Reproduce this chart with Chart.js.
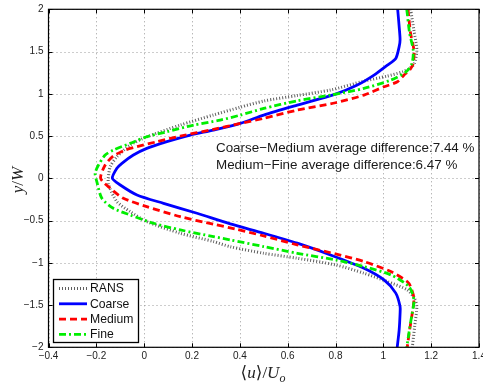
<!DOCTYPE html>
<html><head><meta charset="utf-8">
<script src="https://cdn.jsdelivr.net/npm/chart.js@4.4.1/dist/chart.umd.min.js"></script>
<style>html,body{margin:0;padding:0;background:#fff}</style>
</head><body>
<canvas id="c" width="483" height="383"></canvas>
<script>
// ---- data ----
const xTicks = [-0.4, -0.2, 0, 0.2, 0.4, 0.6, 0.8, 1, 1.2, 1.4];
const yTicks = [-2, -1.5, -1, -0.5, 0, 0.5, 1, 1.5, 2];
const seriesNames = ['RANS', 'Coarse', 'Medium', 'Fine'];

const ransY = [2.0, 1.75, 1.517, 1.36, 1.30, 1.26, 1.21, 1.15, 1.045, 0.98, 0.915, 0.84, 0.75, 0.63, 0.49, 0.394, 0.255, 0.137, 0.0, -0.079, -0.276, -0.394, -0.512, -0.65, -0.749, -0.81, -0.887, -0.946, -1.025, -1.123, -1.222, -1.32, -1.42, -1.518, -1.754, -2.0];
const ransU = [1.114, 1.128, 1.140, 1.130, 1.110, 1.080, 1.017, 0.919, 0.779, 0.640, 0.500, 0.400, 0.290, 0.151, 0.011, -0.059, -0.114, -0.142, -0.150, -0.149, -0.114, -0.059, 0.011, 0.151, 0.290, 0.360, 0.500, 0.640, 0.800, 0.919, 1.017, 1.100, 1.130, 1.140, 1.131, 1.121];

const coarseY = [2.0, 1.8, 1.64, 1.556, 1.418, 1.339, 1.221, 1.103, 0.996, 0.866, 0.748, 0.65, 0.571, 0.512, 0.433, 0.354, 0.275, 0.177, 0.118, 0.0, -0.079, -0.197, -0.296, -0.414, -0.54, -0.65, -0.768, -0.907, -1.064, -1.202, -1.359, -1.518, -1.6, -1.8, -2.0];
const coarseU = [1.060, 1.066, 1.070, 1.066, 1.052, 1.017, 0.961, 0.891, 0.800, 0.640, 0.500, 0.402, 0.290, 0.193, 0.095, 0.011, -0.045, -0.093, -0.114, -0.133, -0.100, -0.030, 0.081, 0.221, 0.360, 0.500, 0.640, 0.779, 0.919, 1.003, 1.052, 1.070, 1.070, 1.066, 1.058];

const mediumY = [2.0, 1.714, 1.517, 1.359, 1.28, 1.221, 1.142, 1.083, 0.985, 0.894, 0.807, 0.709, 0.65, 0.579, 0.5, 0.433, 0.374, 0.334, 0.263, 0.157, 0.0, -0.118, -0.236, -0.336, -0.454, -0.544, -0.599, -0.682, -0.788, -0.895, -0.985, -1.104, -1.222, -1.281, -1.418, -1.596, -1.793, -2.0];
const mediumU = [1.103, 1.114, 1.128, 1.125, 1.110, 1.086, 1.059, 1.003, 0.919, 0.800, 0.640, 0.500, 0.402, 0.290, 0.151, 0.053, -0.030, -0.080, -0.129, -0.163, -0.182, -0.142, -0.087, 0.011, 0.151, 0.290, 0.380, 0.500, 0.640, 0.800, 0.919, 1.031, 1.100, 1.114, 1.128, 1.121, 1.110, 1.100];

const fineY = [2.0, 1.714, 1.517, 1.36, 1.26, 1.162, 1.064, 0.985, 0.917, 0.827, 0.748, 0.689, 0.63, 0.551, 0.492, 0.413, 0.334, 0.275, 0.157, 0.059, -0.04, -0.236, -0.355, -0.434, -0.532, -0.611, -0.69, -0.729, -0.808, -0.887, -0.966, -1.045, -1.143, -1.281, -1.44, -1.636, -1.832, -2.0];
const fineU = [1.098, 1.110, 1.125, 1.120, 1.095, 1.031, 0.919, 0.779, 0.640, 0.500, 0.402, 0.318, 0.207, 0.095, 0.011, -0.059, -0.129, -0.163, -0.191, -0.205, -0.198, -0.177, -0.129, -0.059, 0.039, 0.151, 0.290, 0.360, 0.500, 0.640, 0.800, 0.919, 1.031, 1.107, 1.128, 1.118, 1.107, 1.098];

const annotationLines = ['Coarse\u2212Medium average difference:7.44 %', 'Medium\u2212Fine average difference:6.47 %'];

// ---- build ----
const pts = (u, y) => u.map((v, i) => ({x: v, y: y[i]}));
const fmt = v => { const r = Math.round(v * 10) / 10; return (r < 0 ? '\u2212' : '') + String(Math.abs(r)); };
const SANS = '"Liberation Sans", Arial, Helvetica, sans-serif';
const SERIF = '"Liberation Serif", "Times New Roman", "DejaVu Serif", serif';

const styles = [
  {borderColor: '#606060', borderWidth: 3, borderDash: [1, 2]},
  {borderColor: '#0000ff', borderWidth: 2.8, borderDash: []},
  {borderColor: '#ff0000', borderWidth: 2.8, borderDash: [7, 4]},
  {borderColor: '#00ee00', borderWidth: 2.8, borderDash: [7, 3, 2, 3]}
];
const seriesData = [pts(ransU, ransY), pts(coarseU, coarseY), pts(mediumU, mediumY), pts(fineU, fineY)];

const datasets = seriesNames.map((n, i) => Object.assign({
  label: n, data: seriesData[i], showLine: true, pointRadius: 0, tension: 0.25,
  fill: false, order: 4 - i
}, styles[i]));

const decor = {
  id: 'decor',
  beforeDatasetsDraw(chart) {
    const {ctx, chartArea: {left, right, top, bottom}, scales: {x, y}} = chart;
    ctx.save();
    ctx.strokeStyle = '#9a9a9a'; ctx.lineWidth = 1; ctx.setLineDash([1, 3]);
    xTicks.forEach(v => { const p = Math.round(x.getPixelForValue(v)) + 0.5; ctx.beginPath(); ctx.moveTo(p, top); ctx.lineTo(p, bottom); ctx.stroke(); });
    yTicks.forEach(v => { const p = Math.round(y.getPixelForValue(v)) + 0.5; ctx.beginPath(); ctx.moveTo(left, p); ctx.lineTo(right, p); ctx.stroke(); });
    ctx.restore();
  },
  afterDraw(chart) {
    const {ctx, chartArea: {left, right, top, bottom}, scales: {x, y}} = chart;
    ctx.save();
    // frame + inward ticks
    ctx.setLineDash([]); ctx.strokeStyle = '#000'; ctx.lineWidth = 1.2;
    ctx.strokeRect(left, top, right - left, bottom - top);
    ctx.lineWidth = 1;
    const tl = 4;
    xTicks.forEach(v => { const p = Math.round(x.getPixelForValue(v)) + 0.5; ctx.beginPath(); ctx.moveTo(p, bottom); ctx.lineTo(p, bottom - tl); ctx.moveTo(p, top); ctx.lineTo(p, top + tl); ctx.stroke(); });
    yTicks.forEach(v => { const p = Math.round(y.getPixelForValue(v)) + 0.5; ctx.beginPath(); ctx.moveTo(left, p); ctx.lineTo(left + tl, p); ctx.moveTo(right, p); ctx.lineTo(right - tl, p); ctx.stroke(); });

    // annotation text
    ctx.fillStyle = '#1a1a1a'; ctx.font = '13.4px ' + SANS; ctx.textBaseline = 'middle'; ctx.textAlign = 'left';
    annotationLines.forEach((t, i) => ctx.fillText(t, 216, 148.5 + i * 17.3));

    // legend
    const lx = 53.5, ly = 279.5, lw = 85, lh = 63;
    ctx.fillStyle = '#fff'; ctx.fillRect(lx, ly, lw, lh);
    ctx.strokeStyle = '#000'; ctx.lineWidth = 1.3; ctx.strokeRect(lx, ly, lw, lh);
    chart.data.datasets.forEach((ds, i) => {
      const yy = 288.5 + i * 15.3;
      ctx.save();
      ctx.strokeStyle = ds.borderColor; ctx.lineWidth = ds.borderWidth; ctx.setLineDash(ds.borderDash || []);
      ctx.beginPath(); ctx.moveTo(59, yy); ctx.lineTo(87, yy); ctx.stroke();
      ctx.restore();
      ctx.fillStyle = '#111'; ctx.font = '12.2px ' + SANS; ctx.textBaseline = 'middle'; ctx.textAlign = 'left';
      ctx.fillText(ds.label, 90, yy + 0.5);
    });

    // axis titles (math style)
    const drawParts = (parts, cx, cy) => {
      let w = 0;
      parts.forEach(p => { ctx.font = p.f; w += ctx.measureText(p.t).width; });
      let xx = cx - w / 2;
      ctx.textAlign = 'left'; ctx.textBaseline = 'alphabetic';
      parts.forEach(p => { ctx.font = p.f; ctx.fillText(p.t, xx, cy + (p.dy || 0)); xx += ctx.measureText(p.t).width; });
    };
    ctx.fillStyle = '#222';
    const fI = 'italic 17px ' + SERIF, fR = '17px ' + SERIF, fS = 'italic 12px ' + SERIF;
    drawParts([{t: '\u27E8', f: fR}, {t: 'u', f: fI}, {t: '\u27E9/', f: fR}, {t: 'U', f: fI}, {t: 'o', f: fS, dy: 3.5}], 263, 378);
    ctx.save();
    ctx.translate(22.5, 180);
    ctx.rotate(-Math.PI / 2);
    drawParts([{t: 'y', f: fI}, {t: '/', f: fR}, {t: 'W', f: fI}], 0, 0);
    ctx.restore();
    ctx.restore();
  }
};

new Chart(document.getElementById('c'), {
  type: 'scatter',
  data: {datasets},
  options: {
    responsive: false, animation: false, devicePixelRatio: 1,
    layout: {padding: {left: 0, right: 4, top: 9.3, bottom: 0}},
    plugins: {legend: {display: false}, tooltip: {enabled: false}},
    scales: {
      x: {
        type: 'linear', position: 'bottom', min: -0.4, max: 1.4,
        afterBuildTicks: s => { s.ticks = xTicks.map(v => ({value: v})); },
        afterFit: s => { s.height = 35.7; s.paddingLeft = 0; s.paddingRight = 0; },
        ticks: {callback: v => fmt(v), font: {family: SANS, size: 10}, color: '#222', padding: 3, maxRotation: 0, autoSkip: false},
        grid: {display: false, drawTicks: false}, border: {display: false}
      },
      y: {
        type: 'linear', position: 'left', min: -2, max: 2,
        afterBuildTicks: s => { s.ticks = yTicks.map(v => ({value: v})); },
        afterFit: s => { s.width = 48.5; s.paddingTop = 0; s.paddingBottom = 0; },
        ticks: {callback: v => fmt(v), font: {family: SANS, size: 10}, color: '#222', padding: 5, autoSkip: false},
        grid: {display: false, drawTicks: false}, border: {display: false}
      }
    }
  },
  plugins: [decor]
});
</script>
</body></html>
